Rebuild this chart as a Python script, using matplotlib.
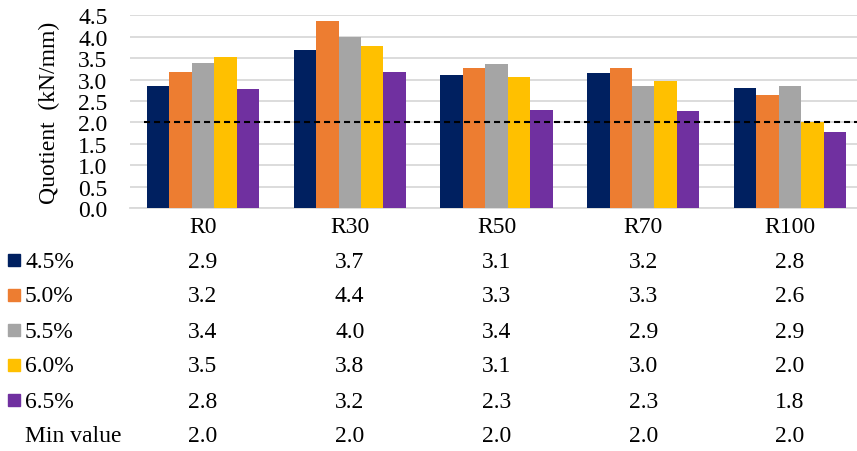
import matplotlib
matplotlib.use('Agg')
import matplotlib.pyplot as plt
import matplotlib.transforms as mtransforms
from matplotlib.patches import Rectangle
import numpy as np

plt.rcParams['font.family'] = ['Liberation Serif', 'DejaVu Serif']
plt.rcParams['font.size'] = 17

# 数据
categories = ['R0', 'R30', 'R50', 'R70', 'R100']
series_names = ['4.5%', '5.0%', '5.5%', '6.0%', '6.5%']
values = {
    '4.5%': [2.86, 3.68, 3.10, 3.16, 2.80],
    '5.0%': [3.17, 4.36, 3.26, 3.28, 2.63],
    '5.5%': [3.39, 3.99, 3.36, 2.86, 2.86],
    '6.0%': [3.52, 3.78, 3.06, 2.96, 2.00],
    '6.5%': [2.77, 3.17, 2.28, 2.26, 1.77],
}
min_value = [2.0, 2.0, 2.0, 2.0, 2.0]
colors = ['#002060', '#ED7D31', '#A5A5A5', '#FFC000', '#7030A0']
yticks = np.arange(0, 4.51, 0.5)

W, H = 857, 452
fig = plt.figure(figsize=(W / 100, H / 100), dpi=100)
# 绘图区（右侧略超出画布，与原图一致）
ax = fig.add_axes([129.6 / W, 1 - 209 / H, 733.8 / W, (209 - 16.3) / H])

x = np.arange(len(categories))
bw = 0.153
for i, name in enumerate(series_names):
    ax.bar(x + (i - 2) * bw, values[name], width=bw, color=colors[i], zorder=3)

ax.axhline(min_value[0], xmin=0.02, color='black', lw=1.5,
           ls=(0, (2.9, 1.9)), zorder=4)

ax.set_xlim(-0.5, len(categories) - 0.5)
ax.set_ylim(0, 4.5)
ax.set_yticks(yticks)
ax.set_yticklabels([f'{v:.1f}' for v in yticks])
ax.yaxis.grid(True, color='#D9D9D9', lw=1.3, zorder=0)
ax.tick_params(axis='y', length=0, pad=16)
ax.set_xticks(x)
ax.set_xticklabels(categories)
ax.tick_params(axis='x', length=0, pad=6)
for s in ['top', 'right', 'left']:
    ax.spines[s].set_visible(False)
ax.spines['bottom'].set_color('#D9D9D9')
ax.spines['bottom'].set_linewidth(1.3)
ax.set_ylabel('Quotient  (kN/mm)', labelpad=13)

# 数据表
trans = mtransforms.blended_transform_factory(ax.transData, fig.transFigure)
row_y = [262, 297, 332, 367, 402, 437]
row_names = series_names + ['Min value']
row_vals = [values[n] for n in series_names] + [min_value]
for r, (name, vals) in enumerate(zip(row_names, row_vals)):
    yf = 1 - row_y[r] / H
    fig.text(25 / W, yf, name, ha='left', va='center')
    if r < len(colors):
        fig.add_artist(Rectangle((8 / W, 1 - (row_y[r] + 5) / H), 12 / W, 12 / H,
                                 transform=fig.transFigure, color=colors[r]))
    for j, v in enumerate(vals):
        ax.text(x[j], yf, f'{v:.1f}', transform=trans, ha='center', va='center',
                clip_on=False)

fig.savefig('out.png', dpi=100)
